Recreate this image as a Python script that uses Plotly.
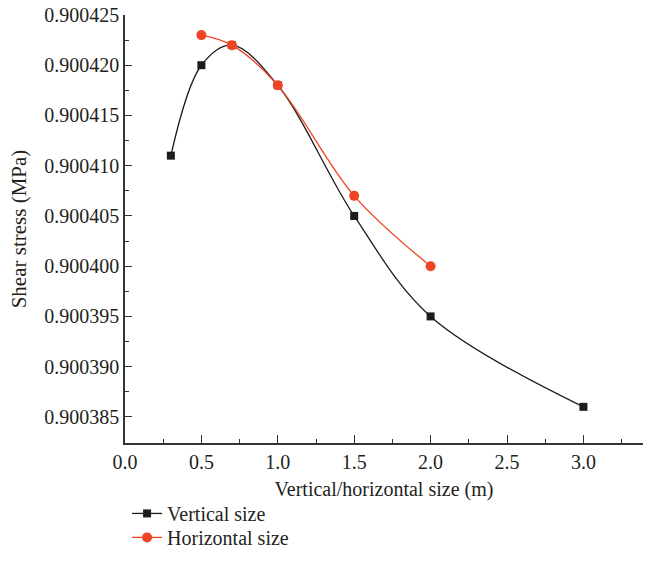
import plotly.graph_objects as go

# Shear stress versus opening size
vertical_x = [0.3, 0.5, 0.7, 1.0, 1.5, 2.0, 3.0]
vertical_y = [0.900411, 0.900420, 0.900422, 0.900418, 0.900405, 0.900395, 0.900386]

horizontal_x = [0.5, 0.7, 1.0, 1.5, 2.0]
horizontal_y = [0.900423, 0.900422, 0.900418, 0.900407, 0.900400]

BLACK = "#1c1c1c"
RED = "#ef4423"
TEXT = "#231f20"
FONT = "Liberation Serif"
FS = 20

fig = go.Figure()
fig.add_trace(go.Scatter(
    x=vertical_x, y=vertical_y, name="Vertical size",
    mode="lines+markers", legend="legend",
    line=dict(color=BLACK, width=1.3, shape="spline", smoothing=1.0),
    marker=dict(symbol="square", size=8, color=BLACK),
))
fig.add_trace(go.Scatter(
    x=horizontal_x, y=horizontal_y, name="Horizontal size",
    mode="lines+markers", legend="legend2",
    line=dict(color=RED, width=1.3, shape="spline", smoothing=1.0),
    marker=dict(symbol="circle", size=10, color=RED),
))

axis_common = dict(
    showline=True, linecolor="#333333", linewidth=1.5,
    ticks="inside", tickcolor="#333333", tickwidth=1.2,
    showgrid=False, zeroline=False,
    tickfont=dict(family=FONT, size=FS, color=TEXT),
)

fig.update_xaxes(
    **axis_common,
    range=[0, 3.39], dtick=0.5, tick0=0, tickformat=".1f", ticklen=8,
    minor=dict(ticks="inside", dtick=0.25, ticklen=4, tickcolor="#333333"),
    title=dict(text="Vertical/horizontal size (m)",
               font=dict(family=FONT, size=FS, color=TEXT), standoff=10),
)
fig.update_yaxes(
    **axis_common,
    range=[0.9003824, 0.900425], dtick=0.000005, tick0=0.900385,
    tickformat=".6f", ticklen=7,
    minor=dict(ticks="inside", dtick=0.0000025, ticklen=4, tickcolor="#333333"),
    title=dict(text="Shear stress (MPa)",
               font=dict(family=FONT, size=FS + 1, color=TEXT), standoff=12),
)

legend_style = dict(
    x=0.004, xanchor="left", yanchor="top",
    font=dict(family=FONT, size=FS, color=TEXT),
    bgcolor="rgba(0,0,0,0)",
)

fig.update_layout(
    width=646, height=573,
    margin=dict(l=125, r=3, t=15, b=130),
    plot_bgcolor="white", paper_bgcolor="white",
    showlegend=True,
    legend=dict(**legend_style, y=-0.119),
    legend2=dict(**legend_style, y=-0.175),
)

fig.write_html("out.html")
